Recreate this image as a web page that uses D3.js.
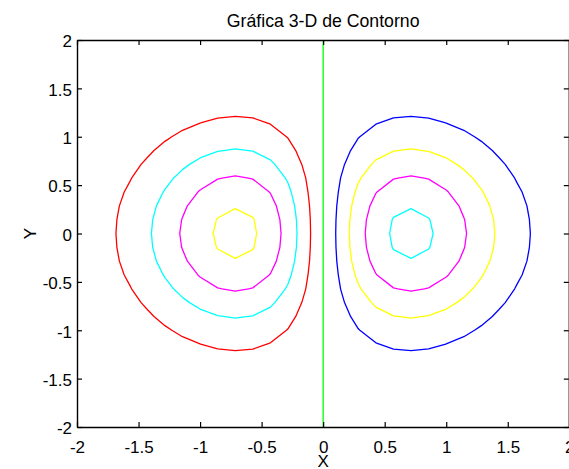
<!DOCTYPE html>
<html>
<head>
<meta charset="utf-8">
<script src="https://cdn.jsdelivr.net/npm/d3@7"></script>
<style>
  html, body { margin: 0; padding: 0; background: #ffffff; }
  svg { display: block; }
  text { font-family: "Liberation Sans", Arial, Helvetica, sans-serif; fill: #000; }
</style>
</head>
<body>
<svg id="chart" width="569" height="469"></svg>
<script>
// Surface z(x, y) sampled on a regular 29 x 29 grid spanning [-2, 2] in both directions.
// Rows run from y = -2 (first) to y = 2 (last); columns from x = -2 to x = 2.
const gridExtentX = [-2, 2];
const gridExtentY = [-2, 2];
const zValues = [
  [-.001,-.001,-.002,-.002,-.003,-.005,-.006,-.007,-.008,-.008,-.008,-.007,-.005,-.003,0,.003,.005,.007,.008,.008,.008,.007,.006,.005,.003,.002,.002,.001,.001],
  [-.001,-.002,-.003,-.004,-.006,-.008,-.010,-.012,-.013,-.014,-.013,-.011,-.008,-.004,0,.004,.008,.011,.013,.014,.013,.012,.010,.008,.006,.004,.003,.002,.001],
  [-.002,-.003,-.005,-.007,-.010,-.013,-.016,-.019,-.022,-.023,-.022,-.019,-.014,-.007,0,.007,.014,.019,.022,.023,.022,.019,.016,.013,.010,.007,.005,.003,.002],
  [-.003,-.005,-.008,-.011,-.016,-.021,-.026,-.031,-.035,-.036,-.035,-.030,-.022,-.012,0,.012,.022,.030,.035,.036,.035,.031,.026,.021,.016,.011,.008,.005,.003],
  [-.005,-.008,-.012,-.017,-.024,-.032,-.040,-.048,-.053,-.056,-.054,-.046,-.034,-.018,0,.018,.034,.046,.054,.056,.053,.048,.040,.032,.024,.017,.012,.008,.005],
  [-.007,-.011,-.017,-.025,-.036,-.047,-.059,-.070,-.079,-.082,-.079,-.068,-.050,-.027,0,.027,.050,.068,.079,.082,.079,.070,.059,.047,.036,.025,.017,.011,.007],
  [-.010,-.016,-.025,-.036,-.050,-.067,-.084,-.0997,-.111,-.116,-.112,-.097,-.071,-.038,0,.038,.071,.097,.112,.116,.111,.0997,.084,.067,.050,.036,.025,.016,.010],
  [-.013,-.022,-.033,-.049,-.068,-.091,-.114,-.135,-.151,-.158,-.152,-.131,-.097,-.051,0,.051,.097,.131,.152,.158,.151,.135,.114,.091,.068,.049,.033,.022,.013],
  [-.018,-.028,-.044,-.064,-.089,-.118,-.148,-.176,-.197,-.206,-.198,-.171,-.126,-.067,0,.067,.126,.171,.198,.206,.197,.176,.148,.118,.089,.064,.044,.028,.018],
  [-.022,-.035,-.054,-.080,-.111,-.148,-.186,-.221,-.247,-.257,-.247,-.214,-.158,-.084,0,.084,.158,.214,.247,.257,.247,.221,.186,.148,.111,.080,.054,.035,.022],
  [-.026,-.043,-.065,-.096,-.134,-.178,-.223,-.265,-.297,-.309,-.297,-.257,-.190,-.101,0,.101,.190,.257,.297,.309,.297,.265,.223,.178,.134,.096,.065,.043,.026],
  [-.030,-.049,-.076,-.111,-.154,-.205,-.258,-.306,-.342,-.357,-.343,-.297,-.219,-.116,0,.116,.219,.297,.343,.357,.342,.306,.258,.205,.154,.111,.076,.049,.030],
  [-.034,-.054,-.084,-.123,-.171,-.227,-.285,-.339,-.379,-.395,-.380,-.329,-.243,-.129,0,.129,.243,.329,.380,.395,.379,.339,.285,.227,.171,.123,.084,.054,.034],
  [-.036,-.058,-.089,-.130,-.182,-.241,-.303,-.360,-.403,-.420,-.404,-.349,-.258,-.137,0,.137,.258,.349,.404,.420,.403,.360,.303,.241,.182,.130,.089,.058,.036],
  [-.037,-.059,-.091,-.133,-.186,-.246,-.310,-.368,-.411,-.429,-.412,-.357,-.263,-.140,0,.140,.263,.357,.412,.429,.411,.368,.310,.246,.186,.133,.091,.059,.037],
  [-.036,-.058,-.089,-.130,-.182,-.241,-.303,-.360,-.403,-.420,-.404,-.349,-.258,-.137,0,.137,.258,.349,.404,.420,.403,.360,.303,.241,.182,.130,.089,.058,.036],
  [-.034,-.054,-.084,-.123,-.171,-.227,-.285,-.339,-.379,-.395,-.380,-.329,-.243,-.129,0,.129,.243,.329,.380,.395,.379,.339,.285,.227,.171,.123,.084,.054,.034],
  [-.030,-.049,-.076,-.111,-.154,-.205,-.258,-.306,-.342,-.357,-.343,-.297,-.219,-.116,0,.116,.219,.297,.343,.357,.342,.306,.258,.205,.154,.111,.076,.049,.030],
  [-.026,-.043,-.065,-.096,-.134,-.178,-.223,-.265,-.297,-.309,-.297,-.257,-.190,-.101,0,.101,.190,.257,.297,.309,.297,.265,.223,.178,.134,.096,.065,.043,.026],
  [-.022,-.035,-.054,-.080,-.111,-.148,-.186,-.221,-.247,-.257,-.247,-.214,-.158,-.084,0,.084,.158,.214,.247,.257,.247,.221,.186,.148,.111,.080,.054,.035,.022],
  [-.018,-.028,-.044,-.064,-.089,-.118,-.148,-.176,-.197,-.206,-.198,-.171,-.126,-.067,0,.067,.126,.171,.198,.206,.197,.176,.148,.118,.089,.064,.044,.028,.018],
  [-.013,-.022,-.033,-.049,-.068,-.091,-.114,-.135,-.151,-.158,-.152,-.131,-.097,-.051,0,.051,.097,.131,.152,.158,.151,.135,.114,.091,.068,.049,.033,.022,.013],
  [-.010,-.016,-.025,-.036,-.050,-.067,-.084,-.0997,-.111,-.116,-.112,-.097,-.071,-.038,0,.038,.071,.097,.112,.116,.111,.0997,.084,.067,.050,.036,.025,.016,.010],
  [-.007,-.011,-.017,-.025,-.036,-.047,-.059,-.070,-.079,-.082,-.079,-.068,-.050,-.027,0,.027,.050,.068,.079,.082,.079,.070,.059,.047,.036,.025,.017,.011,.007],
  [-.005,-.008,-.012,-.017,-.024,-.032,-.040,-.048,-.053,-.056,-.054,-.046,-.034,-.018,0,.018,.034,.046,.054,.056,.053,.048,.040,.032,.024,.017,.012,.008,.005],
  [-.003,-.005,-.008,-.011,-.016,-.021,-.026,-.031,-.035,-.036,-.035,-.030,-.022,-.012,0,.012,.022,.030,.035,.036,.035,.031,.026,.021,.016,.011,.008,.005,.003],
  [-.002,-.003,-.005,-.007,-.010,-.013,-.016,-.019,-.022,-.023,-.022,-.019,-.014,-.007,0,.007,.014,.019,.022,.023,.022,.019,.016,.013,.010,.007,.005,.003,.002],
  [-.001,-.002,-.003,-.004,-.006,-.008,-.010,-.012,-.013,-.014,-.013,-.011,-.008,-.004,0,.004,.008,.011,.013,.014,.013,.012,.010,.008,.006,.004,.003,.002,.001],
  [-.001,-.001,-.002,-.002,-.003,-.005,-.006,-.007,-.008,-.008,-.008,-.007,-.005,-.003,0,.003,.005,.007,.008,.008,.008,.007,.006,.005,.003,.002,.002,.001,.001]
];

// Contour levels and the line colour used for each one.
const levels = [-0.4, -0.3, -0.2, -0.1, 0, 0.1, 0.2, 0.3, 0.4];
const levelColors = ["#ffff00", "#ff00ff", "#00ffff", "#ff0000", "#00ff00", "#0000ff", "#ffff00", "#ff00ff", "#00ffff"];

// Axis ticks and labels.
const xTicks = [-2, -1.5, -1, -0.5, 0, 0.5, 1, 1.5, 2];
const yTicks = [-2, -1.5, -1, -0.5, 0, 0.5, 1, 1.5, 2];
const xDomain = [-2, 2];
const yDomain = [-2, 2];
const titleText = "Gráfica 3-D de Contorno";
const xLabelText = "X";
const yLabelText = "Y";

const svg = d3.select("#chart");
const plot = { left: 77, right: 569.3, top: 40, bottom: 427 };

const x = d3.scaleLinear().domain(xDomain).range([plot.left, plot.right]);
const y = d3.scaleLinear().domain(yDomain).range([plot.bottom, plot.top]);

// Grid-cell coordinates produced by d3.contours -> data coordinates.
const nx = zValues[0].length;
const ny = zValues.length;
const gx = d3.scaleLinear().domain([0.5, nx - 0.5]).range(gridExtentX);
const gy = d3.scaleLinear().domain([0.5, ny - 0.5]).range(gridExtentY);

const contourSets = d3.contours()
  .size([nx, ny])
  .thresholds(levels)(zValues.flat());

const toScreen = d3.geoTransform({
  point(px, py) { this.stream.point(x(gx(px)), y(gy(py))); }
});
const contourPath = d3.geoPath(toScreen);

svg.append("defs").append("clipPath").attr("id", "plot-clip")
  .append("rect")
  .attr("x", plot.left).attr("y", plot.top)
  .attr("width", plot.right - plot.left).attr("height", plot.bottom - plot.top);

svg.append("g")
  .attr("clip-path", "url(#plot-clip)")
  .selectAll("path")
  .data(contourSets)
  .join("path")
  .attr("d", contourPath)
  .attr("fill", "none")
  .attr("stroke", d => levelColors[levels.indexOf(d.value)])
  .attr("stroke-width", 1.3)
  .attr("stroke-linejoin", "round");

// Axes: ticks point inward on all four sides of the box.
const fmt = d => String(d);
const tickLen = 5;

function styleAxis(g) {
  g.attr("font-size", null).attr("font-family", null);
  g.selectAll(".domain").attr("stroke", "#000").attr("stroke-width", 1.4);
  g.selectAll(".tick line").attr("stroke", "#000").attr("stroke-width", 1.2);
  g.selectAll(".tick text").style("font-size", "17px").attr("fill", "#000");
}

svg.append("g")
  .attr("transform", `translate(0,${plot.bottom})`)
  .call(d3.axisBottom(x).tickValues(xTicks).tickFormat(fmt)
    .tickSizeInner(-tickLen).tickSizeOuter(0).tickPadding(14))
  .call(styleAxis);

svg.append("g")
  .attr("transform", `translate(0,${plot.top})`)
  .call(d3.axisTop(x).tickValues(xTicks).tickFormat(() => "")
    .tickSizeInner(-tickLen).tickSizeOuter(0))
  .call(styleAxis);

svg.append("g")
  .attr("transform", `translate(${plot.left},0)`)
  .call(d3.axisLeft(y).tickValues(yTicks).tickFormat(fmt)
    .tickSizeInner(-tickLen).tickSizeOuter(0).tickPadding(5))
  .call(styleAxis)
  .call(g => g.selectAll(".tick text").attr("dy", "0.4em"));

svg.append("g")
  .attr("transform", `translate(${plot.right - 0.5},0)`)
  .call(d3.axisRight(y).tickValues(yTicks).tickFormat(() => "")
    .tickSizeInner(-tickLen).tickSizeOuter(0))
  .call(styleAxis);

// Title and axis labels.
svg.append("text")
  .attr("x", x(0)).attr("y", 27)
  .attr("text-anchor", "middle")
  .style("font-size", "17.7px")
  .text(titleText);

svg.append("text")
  .attr("x", x(0)).attr("y", 467)
  .attr("text-anchor", "middle")
  .style("font-size", "17px")
  .text(xLabelText);

svg.append("text")
  .attr("transform", `translate(36,${y(0)}) rotate(-90)`)
  .attr("text-anchor", "middle")
  .style("font-size", "17px")
  .text(yLabelText);
</script>
</body>
</html>
